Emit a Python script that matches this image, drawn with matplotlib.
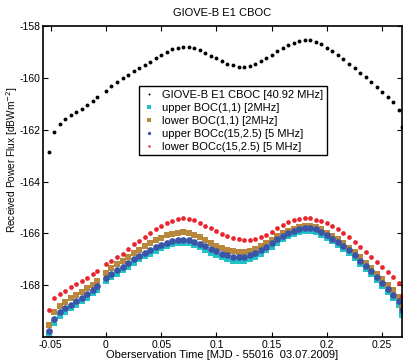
import numpy as np
import matplotlib
matplotlib.use("Agg")
import matplotlib.pyplot as plt

plt.rcParams['font.family'] = ['Liberation Sans', 'DejaVu Sans']
plt.rcParams['axes.unicode_minus'] = False

# ------------------------- Data -------------------------
# time axis [MJD - 55016], two segments with a short gap before 0
t_seg1 = [-0.052, -0.047, -0.042, -0.037, -0.032, -0.027, -0.022, -0.017, -0.012, -0.008]
t_seg2 = [0.000, 0.005, 0.010, 0.015, 0.020, 0.025, 0.030, 0.035, 0.040, 0.045,
          0.050, 0.055, 0.060, 0.065, 0.070, 0.075, 0.080, 0.085, 0.090, 0.095,
          0.100, 0.105, 0.110, 0.115, 0.120, 0.125, 0.130, 0.135, 0.140, 0.145,
          0.150, 0.155, 0.160, 0.165, 0.170, 0.175, 0.180, 0.185, 0.190, 0.195,
          0.200, 0.205, 0.210, 0.215, 0.220, 0.225, 0.230, 0.235, 0.240, 0.245,
          0.250, 0.255, 0.260, 0.265, 0.268]
t_obs = t_seg1 + t_seg2

cboc_full = [-162.85, -162.10, -161.78, -161.60, -161.45, -161.32, -161.20, -161.05, -160.90, -160.75,
             -160.50, -160.32, -160.17, -160.02, -159.88, -159.75, -159.62, -159.50, -159.38, -159.25,
             -159.12, -159.00, -158.90, -158.83, -158.80, -158.80, -158.85, -158.93, -159.03, -159.15,
             -159.25, -159.35, -159.45, -159.52, -159.57, -159.58, -159.53, -159.45, -159.35, -159.23,
             -159.10, -158.97, -158.85, -158.75, -158.66, -158.59, -158.55, -158.55, -158.60, -158.70,
             -158.83, -158.97, -159.10, -159.27, -159.45, -159.62, -159.80, -159.98, -160.15, -160.35,
             -160.55, -160.75, -160.95, -161.25, -161.90]

upper_boc11 = [-169.90, -169.45, -169.20, -169.03, -168.88, -168.75, -168.63, -168.48, -168.32, -168.18,
               -167.85, -167.68, -167.55, -167.43, -167.28, -167.13, -167.00, -166.89, -166.78, -166.67,
               -166.57, -166.49, -166.43, -166.39, -166.37, -166.39, -166.45, -166.54, -166.63, -166.74,
               -166.84, -166.92, -167.00, -167.05, -167.07, -167.05, -167.00, -166.92, -166.80, -166.66,
               -166.51, -166.36, -166.22, -166.10, -166.01, -165.95, -165.91, -165.91, -165.96, -166.06,
               -166.18, -166.31, -166.44, -166.60, -166.77, -166.97, -167.17, -167.37, -167.57, -167.80,
               -168.02, -168.25, -168.50, -168.75, -169.15]

lower_boc11 = [-169.55, -169.05, -168.80, -168.65, -168.50, -168.38, -168.27, -168.12, -167.98, -167.85,
               -167.52, -167.35, -167.20, -167.07, -166.92, -166.77, -166.63, -166.50, -166.38, -166.27,
               -166.17, -166.08, -166.02, -165.98, -165.96, -166.00, -166.07, -166.16, -166.26, -166.37,
               -166.47, -166.57, -166.64, -166.70, -166.72, -166.72, -166.68, -166.60, -166.50, -166.38,
               -166.25, -166.12, -166.00, -165.90, -165.82, -165.76, -165.72, -165.72, -165.76, -165.85,
               -165.97, -166.10, -166.23, -166.38, -166.55, -166.73, -166.93, -167.13, -167.33, -167.55,
               -167.77, -167.98, -168.20, -168.45, -168.80]

upper_bocc = [-169.75, -169.30, -169.05, -168.90, -168.75, -168.62, -168.50, -168.35, -168.20, -168.05,
              -167.72, -167.55, -167.42, -167.30, -167.15, -167.00, -166.87, -166.76, -166.65, -166.54,
              -166.45, -166.37, -166.31, -166.27, -166.25, -166.27, -166.33, -166.41, -166.50, -166.60,
              -166.70, -166.78, -166.85, -166.90, -166.92, -166.90, -166.85, -166.77, -166.65, -166.52,
              -166.38, -166.23, -166.10, -165.98, -165.90, -165.84, -165.80, -165.80, -165.85, -165.95,
              -166.07, -166.20, -166.33, -166.48, -166.65, -166.85, -167.05, -167.25, -167.45, -167.68,
              -167.90, -168.13, -168.37, -168.60, -168.95]

lower_bocc = [-168.95, -168.50, -168.35, -168.22, -168.08, -167.95, -167.83, -167.72, -167.58, -167.47,
              -167.20, -167.05, -166.93, -166.80, -166.60, -166.43, -166.30, -166.15, -166.00, -165.85,
              -165.70, -165.60, -165.52, -165.46, -165.42, -165.45, -165.50, -165.60, -165.70, -165.80,
              -165.92, -166.02, -166.10, -166.17, -166.22, -166.25, -166.25, -166.22, -166.15, -166.05,
              -165.93, -165.80, -165.68, -165.57, -165.50, -165.45, -165.42, -165.42, -165.47, -165.52,
              -165.60, -165.70, -165.82, -165.97, -166.15, -166.33, -166.52, -166.72, -166.93, -167.12,
              -167.30, -167.50, -167.68, -167.90, -168.40]

labels = ["GIOVE-B E1 CBOC [40.92 MHz]",
          "upper BOC(1,1) [2MHz]",
          "lower BOC(1,1) [2MHz]",
          "upper BOCc(15,2.5) [5 MHz]",
          "lower BOCc(15,2.5) [5 MHz]"]

x_ticks = [-0.05, 0, 0.05, 0.1, 0.15, 0.2, 0.25]
x_ticklabels = ["-0.05", "0", "0.05", "0.1", "0.15", "0.2", "0.25"]
y_ticks = [-168, -166, -164, -162, -160, -158]

# ------------------------- Plot -------------------------
fig = plt.figure(figsize=(4.04, 3.61), dpi=100)
ax = fig.add_axes([43/404, 1 - 337/361, 359/404, 311/361])

series = [cboc_full, upper_boc11, lower_boc11, upper_bocc, lower_bocc]
colors = ['black', '#22c3c8', '#b8893c', '#3a55a8', '#e8252d']
markers = ['o', 's', 's', 'o', 'o']
sizes = [2.8, 4.4, 4.6, 4.8, 3.4]

for vals, c, m, s, lab in zip(series, colors, markers, sizes, labels):
    ax.plot(t_obs, vals, linestyle='none', marker=m, ms=s, mew=0,
            color=c, label=lab)

ax.set_xlim(-0.057, 0.268)
ax.set_ylim(-170, -158)
ax.set_xticks(x_ticks)
ax.set_xticklabels(x_ticklabels)
ax.set_yticks(y_ticks)
ax.tick_params(direction='in', top=True, right=True, length=3.5,
               width=0.8, labelsize=7.5, pad=2)
for sp in ax.spines.values():
    sp.set_linewidth(1.2)

ax.set_title("GIOVE-B E1 CBOC", fontsize=8, pad=7)
ax.set_xlabel("Oberservation Time [MJD - 55016  03.07.2009]", fontsize=8, labelpad=0)
ax.set_ylabel("Received Power Flux [dBWm$^{-2}$]", fontsize=7.3)
ax.yaxis.set_label_coords(-0.064, 0.57)

leg = ax.legend(loc='upper left', bbox_to_anchor=(0.267, 0.806), fontsize=8,
                frameon=True, fancybox=False, edgecolor='black', framealpha=1,
                handlelength=1.2, handletextpad=0.6, labelspacing=0.28,
                borderpad=0.3, markerscale=0.5, borderaxespad=0)
leg.get_frame().set_linewidth(1.0)

fig.savefig("out.png", dpi=100)
